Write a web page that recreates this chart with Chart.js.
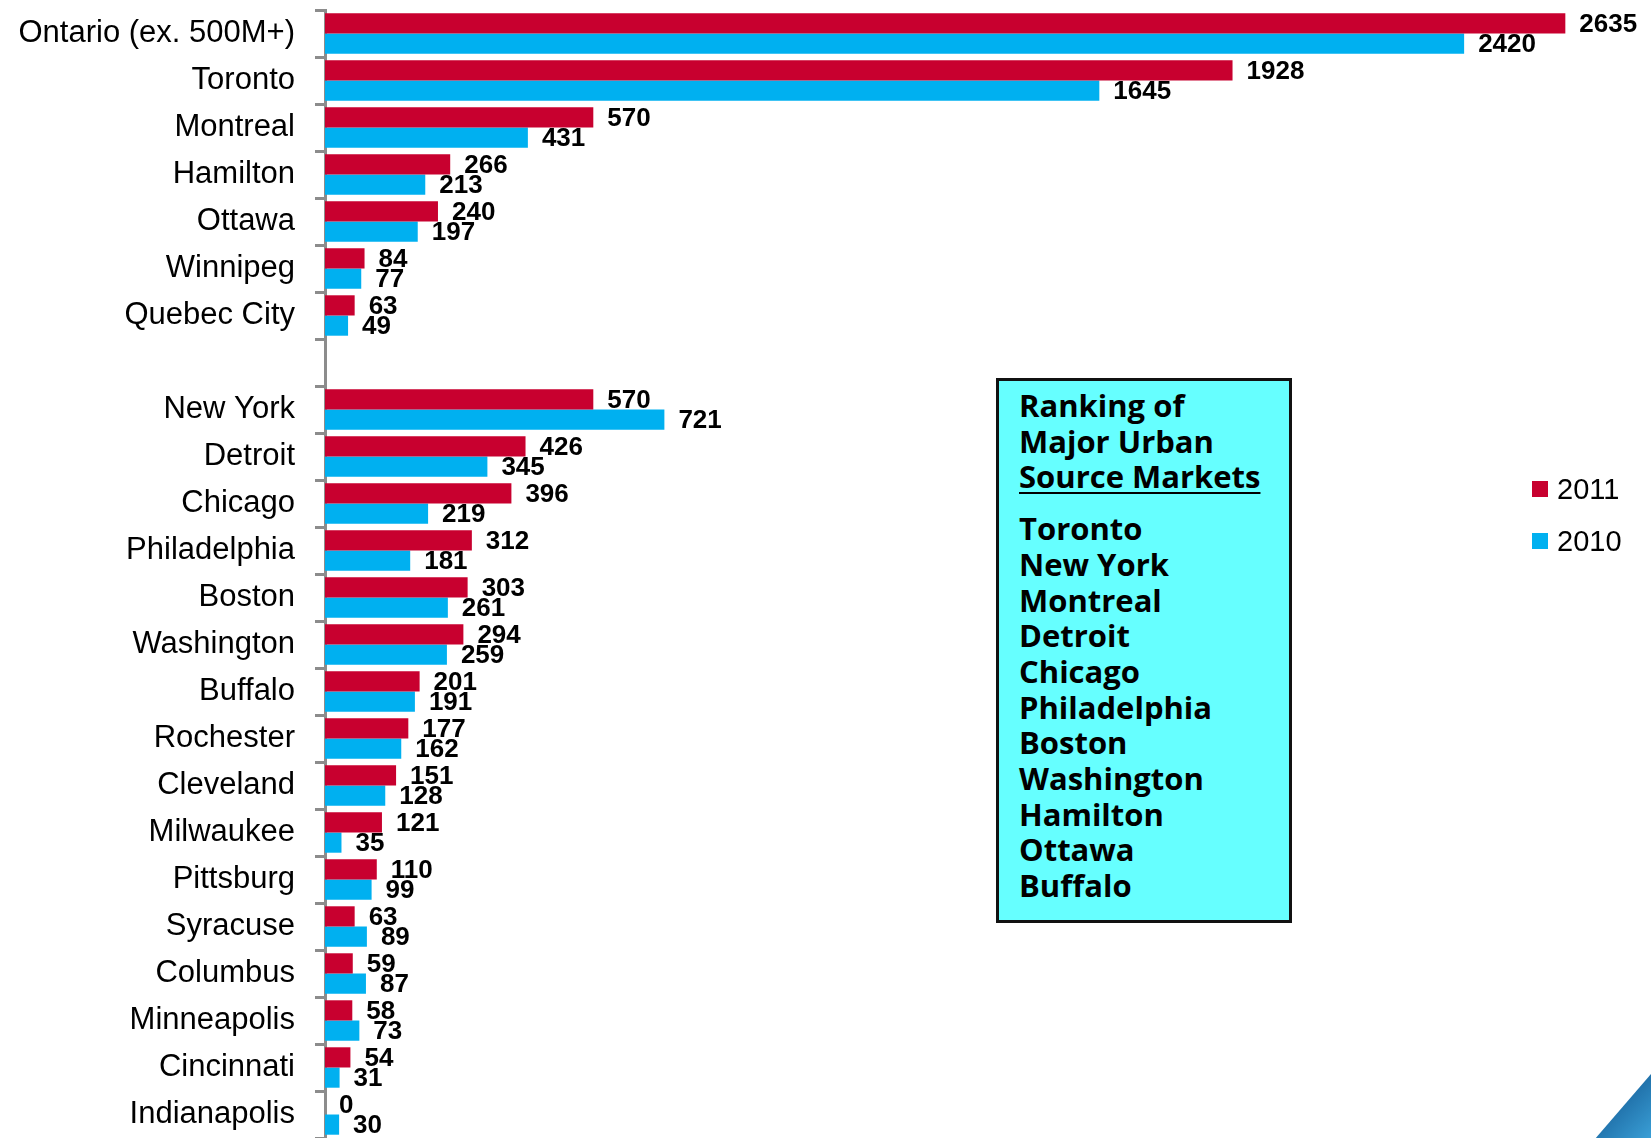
<!DOCTYPE html>
<html>
<head>
<meta charset="utf-8">
<script src="https://cdn.jsdelivr.net/npm/chart.js@4/dist/chart.umd.min.js"></script>
<style>
    html, body { margin: 0; padding: 0; background: #fff; }
    #wrap { position: relative; width: 1651px; height: 1138px; overflow: hidden; }
    #chart { position: absolute; left: 0; top: 0; }
    #rankBox {
        position: absolute; left: 996px; top: 378px; width: 270px; height: 539px;
        border: 3px solid #111; background: #66FFFF;
        font-family: "Open Sans", "Noto Sans", sans-serif; font-weight: 700;
        font-size: 31px; line-height: 35.7px; color: #000;
        padding: 0 0 0 20px; box-sizing: content-box;
    }
    #rankBox .head { margin-top: 7px; margin-bottom: 16px; }
    #rankBox u { text-decoration-thickness: 2px; text-underline-offset: 4px; }
    #legend { position: absolute; left: 1532px; top: 463px; font-family: "Liberation Sans", Arial, sans-serif; font-size: 29px; color: #000; }
    #legend div { height: 52px; display: flex; align-items: center; }
    #legend span.sw { display: inline-block; width: 16px; height: 16px; margin-right: 9px; }
    #corner {
        position: absolute; right: 0; bottom: 0; width: 60px; height: 64px;
        background: linear-gradient(135deg, #0b3e66 0%, #1f6fa8 45%, #3a9fd6 100%);
        clip-path: polygon(100% 0, 100% 100%, 8% 100%);
    }
</style>
</head>
<body>
<div id="wrap">
    <canvas id="chart" width="1651" height="1138"></canvas>
    <div id="rankBox">
        <div class="head">Ranking of<br>Major Urban<br><u>Source Markets</u></div>
        <div id="rankList"></div>
    </div>
    <div id="legend">
        <div><span class="sw" style="background:#C8002F"></span>2011</div>
        <div><span class="sw" style="background:#00B0F0"></span>2010</div>
    </div>
    <div id="corner"></div>
</div>
<script>
const markets = ['Ontario (ex. 500M+)', 'Toronto', 'Montreal', 'Hamilton', 'Ottawa', 'Winnipeg', 'Quebec City', '',
    'New York', 'Detroit', 'Chicago', 'Philadelphia', 'Boston', 'Washington', 'Buffalo', 'Rochester',
    'Cleveland', 'Milwaukee', 'Pittsburg', 'Syracuse', 'Columbus', 'Minneapolis', 'Cincinnati', 'Indianapolis'];
const values2011 = [2635, 1928, 570, 266, 240, 84, 63, null,
    570, 426, 396, 312, 303, 294, 201, 177, 151, 121, 110, 63, 59, 58, 54, 0];
const values2010 = [2420, 1645, 431, 213, 197, 77, 49, null,
    721, 345, 219, 181, 261, 259, 191, 162, 128, 35, 99, 89, 87, 73, 31, 30];
const ranking = ['Toronto', 'New York', 'Montreal', 'Detroit', 'Chicago', 'Philadelphia',
    'Boston', 'Washington', 'Hamilton', 'Ottawa', 'Buffalo'];

document.getElementById('rankList').innerHTML = ranking.join('<br>');

// value labels at the end of each bar
const barValues = {
    id: 'barValues',
    afterDatasetsDraw(chart) {
        const ctx = chart.ctx;
        ctx.save();
        ctx.font = 'bold 26px "Liberation Sans", Arial, sans-serif';
        ctx.fillStyle = '#000';
        ctx.textBaseline = 'middle';
        chart.data.datasets.forEach((ds, i) => {
            chart.getDatasetMeta(i).data.forEach((bar, j) => {
                if (ds.data[j] === null) return;
                ctx.fillText(String(ds.data[j]), bar.x + 14, bar.y + 1);
            });
        });
        ctx.restore();
    }
};

new Chart(document.getElementById('chart'), {
    type: 'bar',
    data: {
        labels: markets,
        datasets: [{
            label: '2011',
            data: values2011,
            backgroundColor: '#C8002F',
            categoryPercentage: 0.86,
            barPercentage: 1.0
        }, {
            label: '2010',
            data: values2010,
            backgroundColor: '#00B0F0',
            categoryPercentage: 0.86,
            barPercentage: 1.0
        }]
    },
    options: {
        indexAxis: 'y',
        responsive: false,
        animation: false,
        layout: { padding: { top: 10, right: 8, bottom: 0, left: 0 } },
        plugins: {
            legend: { display: false },
            tooltip: { enabled: false }
        },
        scales: {
            x: { display: false, min: 0, max: 2800 },
            y: {
                afterFit(scale) {
                    scale.width = 325;
                    scale.paddingTop = 0;
                    scale.paddingBottom = 0;
                },
                ticks: {
                    color: '#000',
                    padding: 20,
                    font: { family: '"Liberation Sans", Arial, sans-serif', size: 31 }
                },
                grid: {
                    drawOnChartArea: false,
                    color: '#8c8c8c',
                    lineWidth: 3,
                    tickLength: 10,
                    offset: true
                },
                border: { color: '#8c8c8c', width: 3 }
            }
        }
    },
    plugins: [barValues]
});
</script>
</body>
</html>
